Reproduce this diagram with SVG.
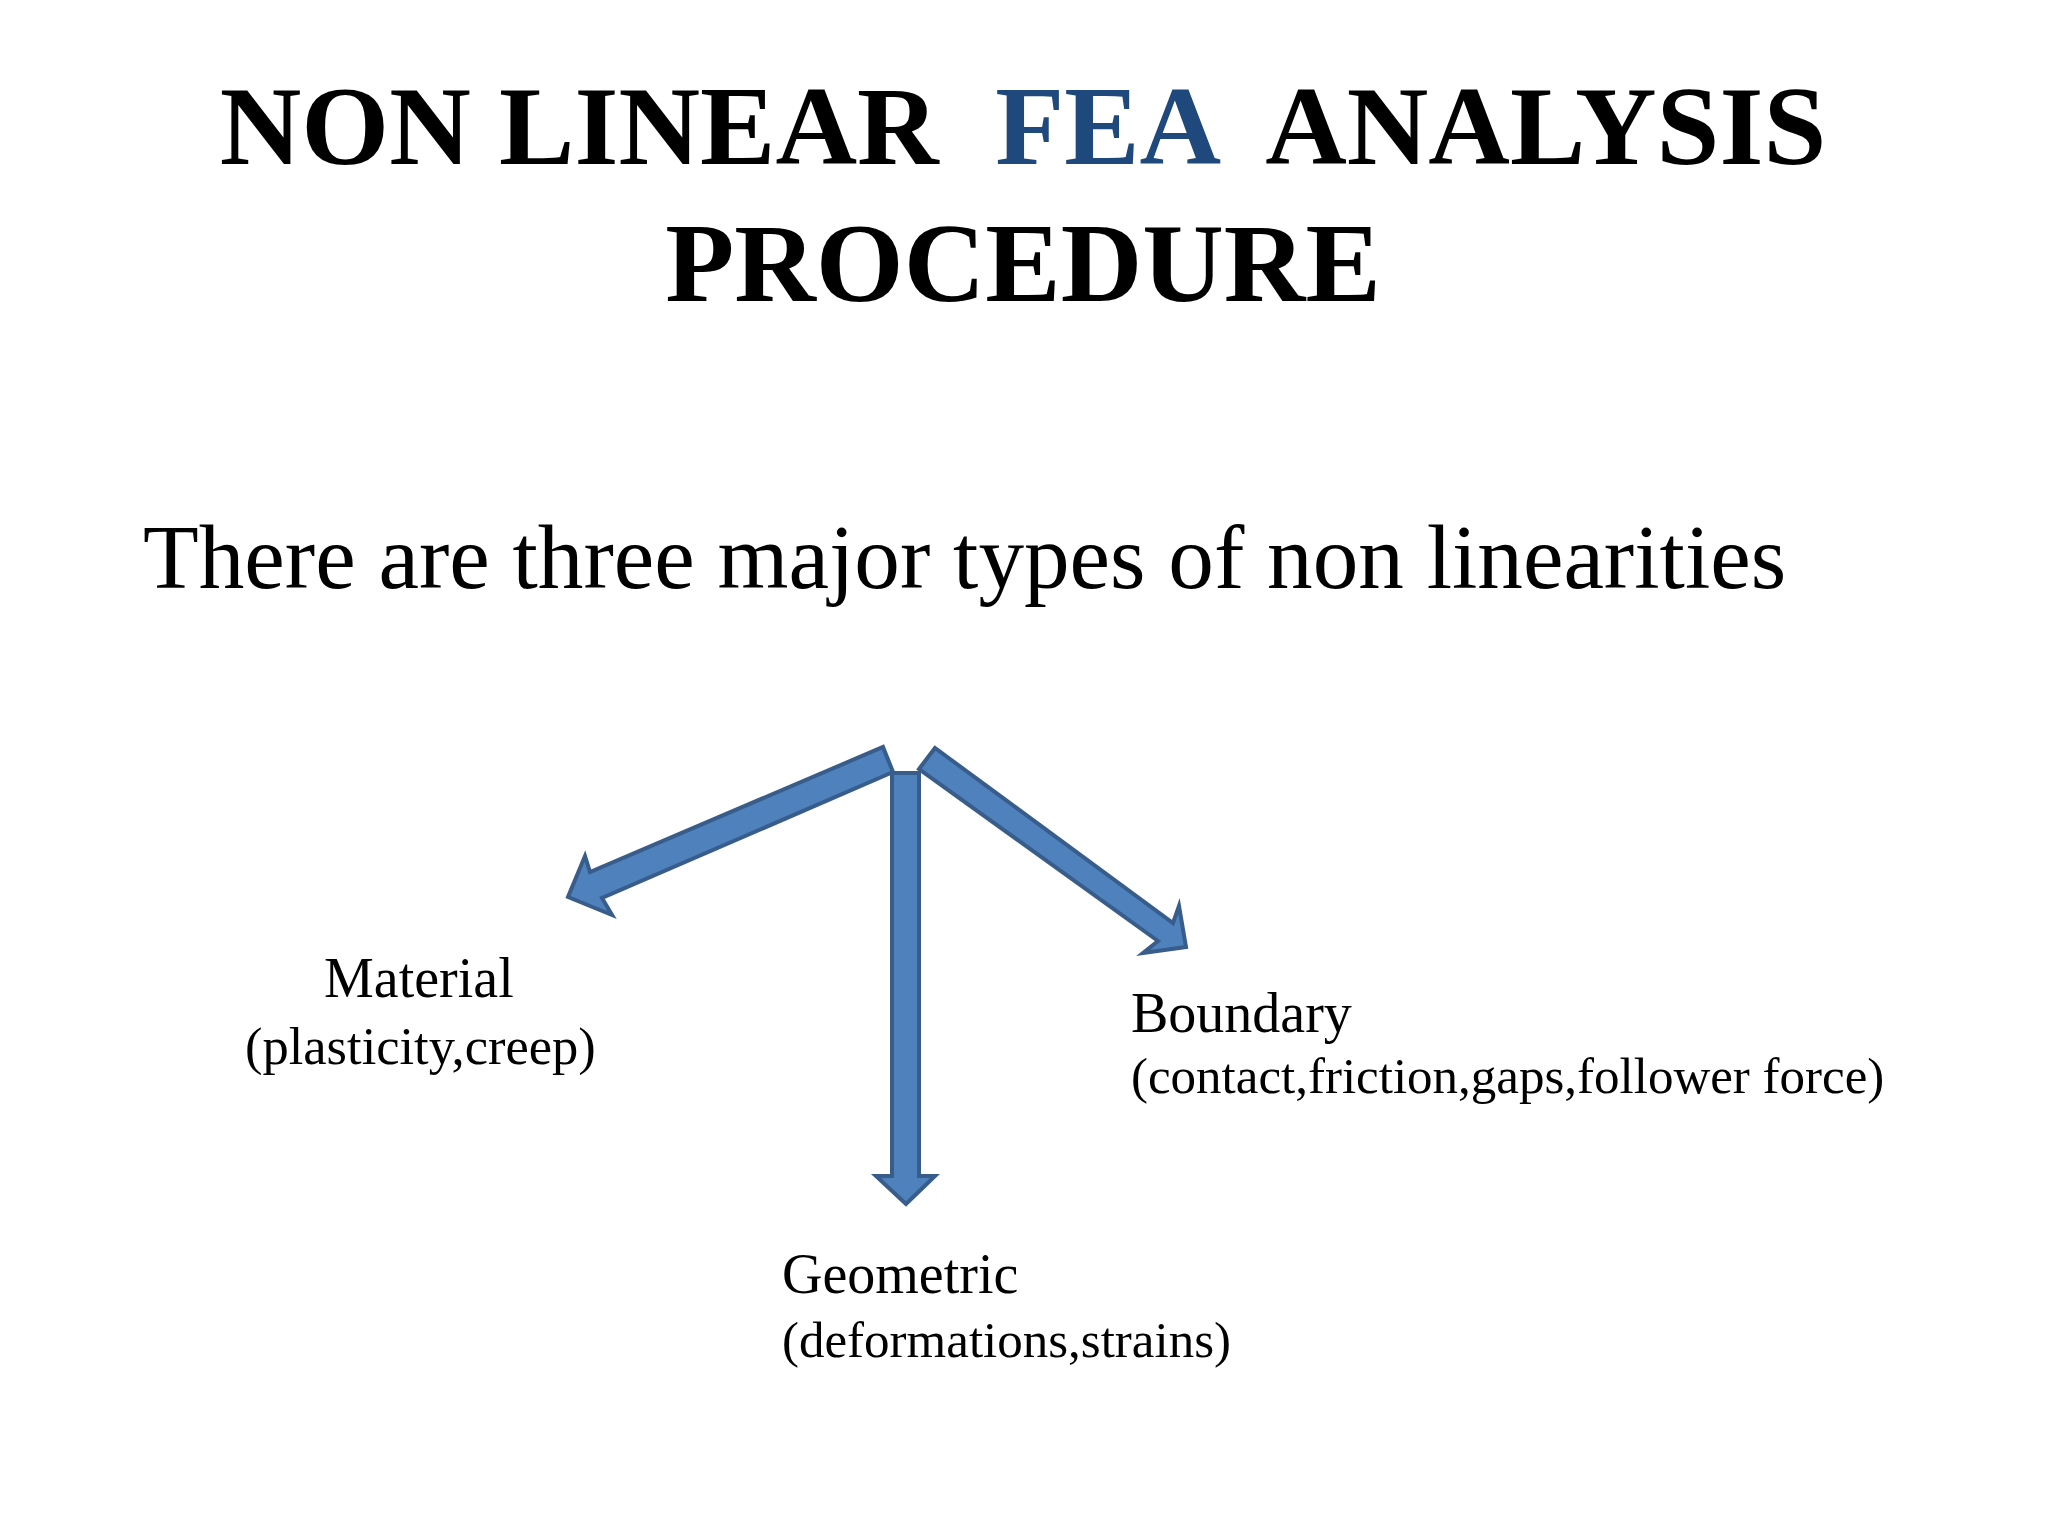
<svg xmlns="http://www.w3.org/2000/svg" width="2048" height="1536" viewBox="0 0 2048 1536">
<style>
.t{font-family:"Liberation Serif","Times New Roman",serif;fill:#000}
.title{font-size:113px;font-weight:bold;white-space:pre}
.sub{font-size:91.2px}
.l1{font-size:56px}
.l2{font-size:51px}
.arr{fill:#4F81BD;stroke:#385D8A;stroke-width:4;stroke-linejoin:miter}
</style>
<rect width="2048" height="1536" fill="#fff"/>
<g id="title">
<text class="t title" x="1023" y="164" text-anchor="middle">NON LINEAR  <tspan fill="#1F497D">FEA</tspan>  ANALYSIS</text>
<text class="t title" x="1023" y="301" text-anchor="middle">PROCEDURE</text>
</g>
<g id="subtitle">
<text class="t sub" x="143" y="588">There are three major types of non linearities</text>
</g>
<g id="connectors">
<polygon class="arr" points="883,747 893,772 602,898 612,915 568,897 585,856 590,872"/>
<polygon class="arr" points="892,773 919,773 919,1176 935,1176 906,1204 876,1176 892,1176"/>
<polygon class="arr" points="935,748 919,769 1158,941 1143,953 1186,947 1179,906 1173,923"/>
</g>
<g id="material">
<text class="t l1" x="324" y="997">Material</text>
<text class="t l2" x="245" y="1064" style="font-size:52.5px">(plasticity,creep)</text>
</g>
<g id="boundary">
<text class="t l1" x="1131" y="1032">Boundary</text>
<text class="t l2" x="1131" y="1093">(contact,friction,gaps,follower force)</text>
</g>
<g id="geometric">
<text class="t l1" x="782" y="1293">Geometric</text>
<text class="t l2" x="782" y="1357">(deformations,strains)</text>
</g>
</svg>
